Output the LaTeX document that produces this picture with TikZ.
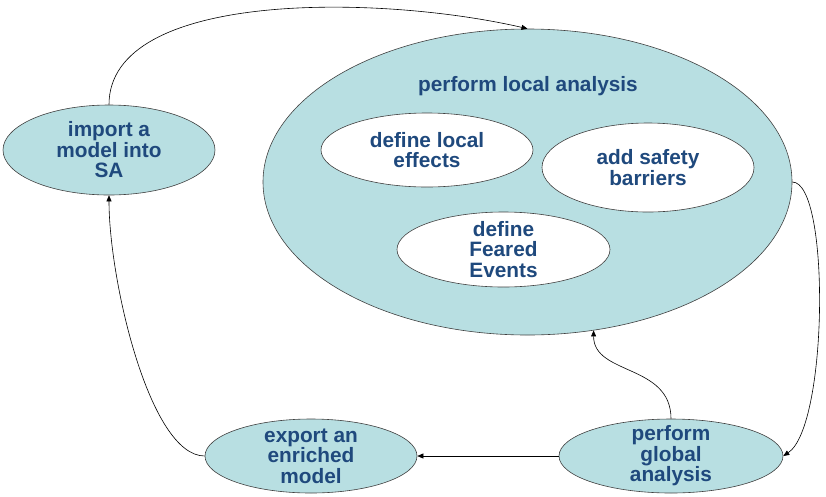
\documentclass[tikz,border=0pt]{standalone}
\usepackage{fontspec}
\setmainfont{Liberation Sans}
\usetikzlibrary{shapes.geometric,arrows.meta}
\definecolor{stagefill}{RGB}{184,223,226}
\definecolor{stagetext}{RGB}{31,73,125}
\begin{document}
\begin{tikzpicture}[x=1pt,y=-1pt,-{Triangle[length=6pt,width=5pt]},line width=0.6pt,
	stage/.style={draw=black!75,ellipse,fill=stagefill,inner sep=-12pt,text=stagetext,font=\fontsize{20.8}{20.5}\selectfont\bfseries,align=center},
	substage/.style={stage,fill=white}]
		\useasboundingbox (0,0) rectangle (826,496);
		\node (local) [stage, minimum width=529pt, minimum height=306pt] at (527.5,182) {};
		\node (localname) [text=stagetext, font=\fontsize{20.8}{20.5}\selectfont\bfseries] at (528,86) {perform local analysis};
		\node (effects) [substage, minimum width=212pt, minimum height=74pt] at (427,150) {define local\\effects};
		\node (barriers) [substage, minimum width=212pt, minimum height=89pt] at (648,167.5) {add safety\\barriers};
		\node (feared) [substage, minimum width=213pt, minimum height=75pt] at (503.5,249.5) {define\\Feared\\Events};
		\node (imp) [stage, minimum width=212pt, minimum height=90pt] at (109,150) {import a\\model into\\SA};
		\node (glob) [stage, minimum width=224pt, minimum height=74pt] at (671,456) {perform\\global\\analysis};
		\node (expo) [stage, minimum width=212pt, minimum height=74pt] at (311,456) {export an\\enriched\\model};
		\draw (imp.north) .. controls +(0,-115) and +(-147,-34) .. (local.north);
		\draw (local.east) .. controls +(38,0) and +(45,-30) .. (glob.east);
		\draw (glob.north) .. controls +(0,-55) and +(0,45) .. (local.-66);
		\draw (glob.west) -- (expo.east);
		\draw (expo.west) .. controls +(-55,0) and +(0,85) .. (imp.south);
\end{tikzpicture}
\end{document}
